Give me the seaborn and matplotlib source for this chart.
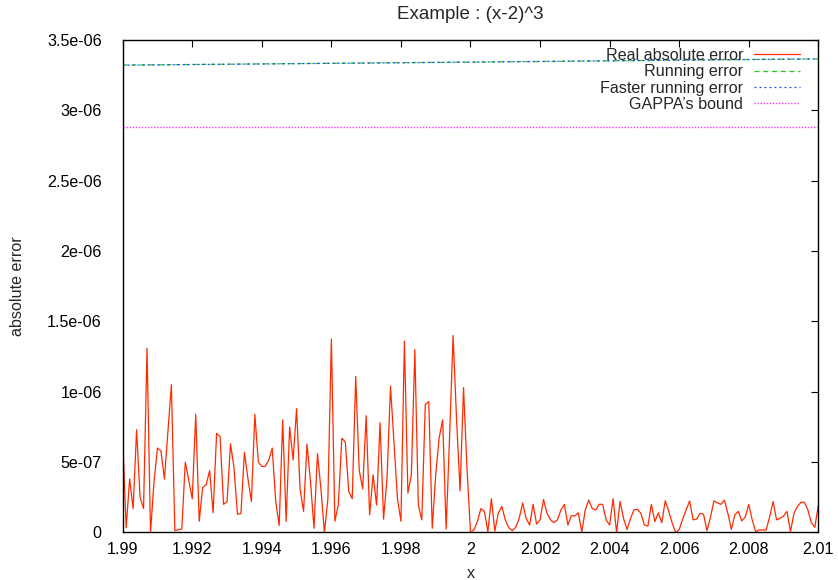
import numpy as np
import pandas as pd
import matplotlib
matplotlib.use("Agg")
import matplotlib.pyplot as plt
import seaborn as sns

# ---- data ----
real_err_e7 = [
    6.7, 0.34, 3.8, 1.7, 7.3, 2.5, 1.7, 13.1, 0.0, 3.6,
    6.0, 5.8, 3.8, 7.2, 10.5, 0.13, 0.2, 0.25, 5.0, 3.7,
    2.4, 8.4, 0.8, 3.2, 3.4, 4.4, 1.4, 7.05, 6.8, 2.0,
    2.2, 6.3, 4.6, 1.3, 1.35, 5.7, 3.85, 2.2, 8.4, 5.0,
    4.7, 4.7, 5.15, 6.0, 2.2, 0.5, 8.0, 0.8, 7.5, 5.15,
    8.8, 3.1, 1.5, 6.3, 3.6, 0.3, 5.6, 3.1, 0.0, 2.4,
    13.75, 0.8, 1.95, 6.7, 6.45, 2.9, 2.4, 11.1, 4.45, 3.1,
    8.3, 1.25, 4.1, 1.95, 7.8, 0.95, 3.85, 10.4, 6.45, 2.4,
    0.8, 13.6, 2.8, 4.1, 13.0, 1.95, 0.9, 9.1, 9.3, 0.3,
    4.1, 6.75, 8.0, 0.25, 6.9, 14.0, 8.0, 2.95, 10.3, 4.5,
    0.0,
    0.2, 0.8, 1.7, 1.5, 0.05, 2.4, 0.1, 1.4, 1.85, 0.9,
    0.35, 0.13, 0.37, 1.0, 2.1, 1.0, 0.53, 2.0, 0.6, 0.9,
    2.35, 1.36, 0.9, 0.7, 0.9, 1.6, 2.0, 0.53, 1.2, 1.17,
    1.4, 0.05, 1.6, 2.3, 1.7, 1.6, 2.0, 2.0, 0.9, 0.53,
    2.4, 0.0, 2.2, 1.0, 0.22, 1.0, 1.6, 1.65, 1.36, 0.53,
    0.46, 2.0, 0.77, 1.4, 0.7, 2.26, 1.5, 0.65, 0.0, 0.2,
    0.95, 1.6, 2.25, 0.9, 0.95, 1.36, 1.3, 0.13, 1.1, 2.25,
    2.1, 2.0, 2.3, 1.36, 0.22, 1.25, 1.5, 0.82, 1.1, 2.0,
    0.9, 0.05, 0.18, 0.18, 0.18, 1.1, 2.2, 0.9, 1.0, 1.17,
    1.5, 0.05, 1.36, 1.85, 2.15, 2.15, 1.6, 0.7, 0.37, 1.95,
]
x_min, x_max = 1.99, 2.01
bound_x = [1.99, 2.0, 2.01]
running_err = [3.322e-6, 3.343e-6, 3.366e-6]
faster_running_err = [3.321e-6, 3.343e-6, 3.366e-6]
gappa_bound = [2.883e-6, 2.883e-6, 2.883e-6]

x_ticks = [1.99, 1.992, 1.994, 1.996, 1.998, 2.0, 2.002, 2.004, 2.006, 2.008, 2.01]
x_tick_labels = ["1.99", "1.992", "1.994", "1.996", "1.998", "2",
                 "2.002", "2.004", "2.006", "2.008", "2.01"]
y_ticks = [0, 5e-7, 1e-6, 1.5e-6, 2e-6, 2.5e-6, 3e-6, 3.5e-6]
y_tick_labels = ["0", "5e-07", "1e-06", "1.5e-06", "2e-06", "2.5e-06", "3e-06", "3.5e-06"]

# ---- frames ----
x_real = np.linspace(x_min, x_max, len(real_err_e7))
df_real = pd.DataFrame({"x": x_real, "err": np.array(real_err_e7) * 1e-7})
df_run = pd.DataFrame({"x": bound_x, "err": running_err})
df_fast = pd.DataFrame({"x": bound_x, "err": faster_running_err})
df_gappa = pd.DataFrame({"x": bound_x, "err": gappa_bound})

sns.set_theme(style="white")
plt.rcParams["font.family"] = ["Liberation Sans", "DejaVu Sans"]
plt.rcParams.update({
    "xtick.direction": "in", "ytick.direction": "in",
    "xtick.top": True, "ytick.right": True,
    "xtick.major.size": 5, "ytick.major.size": 5,
    "xtick.major.width": 0.8, "ytick.major.width": 0.8,
    "xtick.color": "black", "ytick.color": "black",
    "axes.edgecolor": "black", "axes.linewidth": 1.0,
})

fs = 11.6
fig = plt.figure(figsize=(8.38, 5.80), dpi=100)
ax = fig.add_axes([0.1464, 0.0819, 0.8301, 0.8491])

sns.lineplot(data=df_real, x="x", y="err", ax=ax, color="#ff2a00", lw=0.9,
             label="Real absolute error", estimator=None)
sns.lineplot(data=df_run, x="x", y="err", ax=ax, color="#22cc22", lw=0.9,
             linestyle=(0, (4, 3)), label="Running error", estimator=None)
sns.lineplot(data=df_fast, x="x", y="err", ax=ax, color="#2040ff", lw=0.9,
             linestyle=(0, (1.5, 2.5)), label="Faster running error", estimator=None)
sns.lineplot(data=df_gappa, x="x", y="err", ax=ax, color="#ff33ff", lw=1.0,
             linestyle=(0, (1, 1.2)), label="GAPPA\u2019s bound", estimator=None)

ax.set_xlim(x_min, x_max)
ax.set_ylim(0, 3.5e-6)
ax.set_xticks(x_ticks)
ax.set_xticklabels(x_tick_labels, fontsize=fs)
ax.set_yticks(y_ticks)
ax.set_yticklabels(y_tick_labels, fontsize=fs)
ax.tick_params(axis="x", which="major", pad=7)
ax.tick_params(axis="y", which="major", pad=15)
ax.set_xlabel("x", fontsize=fs, labelpad=6)
ax.set_ylabel("absolute error", fontsize=fs, labelpad=16)
ax.set_title("Example : (x-2)^3", fontsize=13.5, pad=15)

leg = ax.legend(loc="upper right", bbox_to_anchor=(0.9856, 1.0), frameon=False,
                markerfirst=False, fontsize=fs, handlelength=2.9,
                handletextpad=0.65, labelspacing=0.08, borderaxespad=0.3,
                borderpad=0.2)

fig.savefig("out.png", dpi=100)
